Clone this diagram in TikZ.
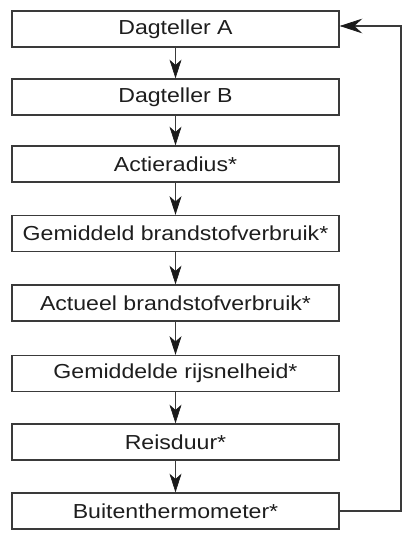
\documentclass[tikz,border=0pt]{standalone}
\usepackage{fontspec}
\setmainfont{Liberation Sans}[FakeStretch=1.14]
\usetikzlibrary{arrows.meta}
\definecolor{ln}{HTML}{3a3a3a}
\definecolor{tx}{HTML}{1e1e1e}
\definecolor{hd}{HTML}{1a1a1a}
\begin{document}
\begin{tikzpicture}[x=0.75pt,y=-0.75pt,
  box/.style={draw=ln,line width=1pt,minimum width=245.25pt,minimum height=27pt,inner sep=0pt,
    font=\fontsize{15.2}{18}\selectfont,text=tx},
  flow/.style={draw=ln,line width=0.9pt,-{Stealth[length=14pt,width=9pt,inset=4pt,line width=0.5pt,color=hd,fill=hd]}},
  back/.style={draw=ln,line width=0.9pt,-{Stealth[length=17pt,width=11pt,inset=6pt,line width=0.5pt,color=hd,fill=hd]}}]
\useasboundingbox (0,0) rectangle (409,535);
\node[box] (b1) at (175.5,29) {Dagteller A};
\node[box] (b2) at (175.5,97) {Dagteller B};
\node[box] (b3) at (175.5,164) {Actieradius*};
\node[box] (b4) at (175.5,233.5) {Gemiddeld brandstofverbruik*};
\node[box] (b5) at (175.5,303) {Actueel brandstofverbruik*};
\node[box] (b6) at (175.5,373.5) {Gemiddelde rijsnelheid*};
\node[box] (b7) at (175.5,442) {Reisduur*};
\node[box] (b8) at (175.5,511) {Buitenthermometer*};
\foreach \a/\b in {b1/b2,b2/b3,b3/b4,b4/b5,b5/b6,b6/b7,b7/b8}
  \draw[flow] (\a.south) -- (\b.north);
\coordinate (c1) at (401,511);
\coordinate (c2) at (401,26);
\draw[back] (b8.east) -- (c1) -- (c2) -- (c2 -| b1.east);
\end{tikzpicture}
\end{document}
